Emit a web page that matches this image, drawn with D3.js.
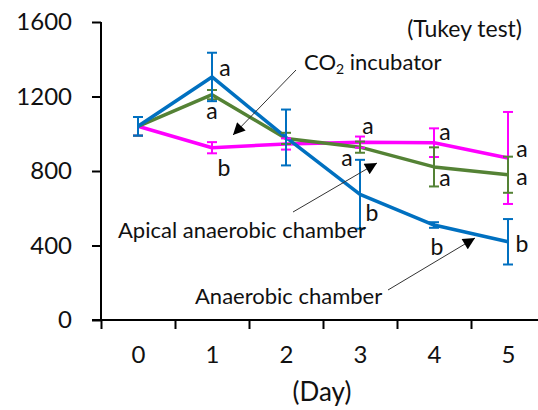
<!DOCTYPE html>
<html><head><meta charset="utf-8">
<script src="https://cdn.jsdelivr.net/npm/d3@7"></script>
<style>
body{margin:0;background:#fff;}
svg{display:block;font-family:Lato, "Noto Sans", sans-serif;}
</style></head>
<body>
<svg id="chart" width="538" height="410"></svg>
<script>
const days = [0, 1, 2, 3, 4, 5];
const yTicks = [0, 400, 800, 1200, 1600];
const seriesNames = ["CO2 incubator", "Apical anaerobic chamber", "Anaerobic chamber"];
const co2Values = [1040, 925, 945, 955, 952, 870];
const co2Errors = [50, 30, 30, 30, 77, 247];
const apicalValues = [1040, 1210, 975, 928, 822, 780];
const apicalErrors = [50, 25, 30, 30, 105, 97];
const anaerobicValues = [1040, 1305, 980, 675, 510, 420];
const anaerobicErrors = [50, 130, 150, 185, 15, 122];
const co2Letters = ["", "b", "", "a", "a", "a"];
const apicalLetters = ["", "a", "", "a", "a", "a"];
const anaerobicLetters = ["", "a", "", "b", "b", "b"];

const svg = d3.select("#chart");
const x = d3.scaleLinear().domain([-0.5, 5.5]).range([101, 545]);
const y = d3.scaleLinear().domain([0, 1600]).range([320, 22]);

// axes
const yAxis = svg.append("g").attr("transform", "translate(101,0)")
  .call(d3.axisLeft(y).tickValues(yTicks).tickSize(9).tickPadding(20).tickFormat(d3.format("d")));
yAxis.select(".domain").remove();
yAxis.selectAll(".tick line").attr("stroke", "#000").attr("stroke-width", 2);
yAxis.selectAll("text").attr("font-size", 24).attr("fill", "#111").attr("font-family", "Lato");
svg.append("line").attr("x1", 101).attr("x2", 101).attr("y1", y(1600)).attr("y2", y(0)).attr("stroke", "#000").attr("stroke-width", 2);

const xTickAxis = svg.append("g").attr("transform", "translate(0,320)")
  .call(d3.axisBottom(x).tickValues(d3.range(-0.5, 6, 1)).tickSize(9).tickFormat(""));
xTickAxis.select(".domain").remove();
xTickAxis.selectAll(".tick line").attr("stroke", "#000").attr("stroke-width", 2);
svg.append("line").attr("x1", 92).attr("x2", 545).attr("y1", 320).attr("y2", 320).attr("stroke", "#000").attr("stroke-width", 2);

const xLabelAxis = svg.append("g").attr("transform", "translate(0,320)")
  .call(d3.axisBottom(x).tickValues(days).tickSize(0).tickPadding(26).tickFormat(d3.format("d")));
xLabelAxis.select(".domain").remove();
xLabelAxis.selectAll("text").attr("font-size", 24).attr("fill", "#111").attr("font-family", "Lato");

svg.append("text").attr("x", 322).attr("y", 401).attr("text-anchor", "middle")
  .attr("font-size", 26).attr("fill", "#111").text("(Day)");

// series
const series = [
  {name: seriesNames[0], values: co2Values, errors: co2Errors, letters: co2Letters, color: "#FF00FF",
   off: [null, [12, 20], null, [8, -14], [11, -9], [14, -7]]},
  {name: seriesNames[1], values: apicalValues, errors: apicalErrors, letters: apicalLetters, color: "#548235",
   off: [null, [0, 18], null, [-13, 13], [11, 13], [14, 4]]},
  {name: seriesNames[2], values: anaerobicValues, errors: anaerobicErrors, letters: anaerobicLetters, color: "#0070C0",
   off: [null, [13, -7], null, [12, 18], [3, 22], [14, 2]]}
];

const line = d3.line().x((d, i) => x(days[i])).y(d => y(d)).curve(d3.curveLinear);

series.forEach(s => {
  svg.append("path").attr("d", line(s.values)).attr("fill", "none")
    .attr("stroke", s.color).attr("stroke-width", 3.5).attr("stroke-linejoin", "round");
});
series.forEach(s => {
  const g = svg.append("g").attr("stroke", s.color).attr("stroke-width", 2);
  s.values.forEach((v, i) => {
    const cx = x(days[i]);
    const e = s.errors[i];
    g.append("line").attr("x1", cx).attr("x2", cx).attr("y1", y(v + e)).attr("y2", y(v - e));
    g.append("line").attr("x1", cx - 5).attr("x2", cx + 5).attr("y1", y(v + e)).attr("y2", y(v + e));
    g.append("line").attr("x1", cx - 5).attr("x2", cx + 5).attr("y1", y(v - e)).attr("y2", y(v - e));
  });
});
// significance letters
series.forEach(s => {
  s.letters.forEach((t, i) => {
    if (!t) return;
    const o = s.off[i];
    svg.append("text").attr("x", x(days[i]) + o[0]).attr("y", y(s.values[i]) + o[1])
      .attr("dy", t === "b" ? "0.36em" : "0.26em")
      .attr("text-anchor", "middle").attr("font-size", 23).attr("fill", "#111").text(t);
  });
});

// arrow marker
svg.append("defs").append("marker").attr("id", "arr")
  .attr("viewBox", "0 0 10 10").attr("refX", 10).attr("refY", 5)
  .attr("markerWidth", 14).attr("markerHeight", 12).attr("markerUnits", "userSpaceOnUse")
  .attr("orient", "auto")
  .append("path").attr("d", "M0,0 L10,5 L0,10 Z").attr("fill", "#000");

const leaders = [[296, 70, 233, 135], [293, 212, 377, 163], [388, 290, 475, 238]];
leaders.forEach(l => {
  svg.append("line").attr("x1", l[0]).attr("y1", l[1]).attr("x2", l[2]).attr("y2", l[3])
    .attr("stroke", "#333").attr("stroke-width", 1).attr("marker-end", "url(#arr)");
});

// annotation texts
svg.append("text").attr("x", 522).attr("y", 37).attr("text-anchor", "end")
  .attr("font-size", 23).attr("fill", "#111").text("(Tukey test)");
const co2t = svg.append("text").attr("x", 304).attr("y", 70).attr("font-size", 22).attr("fill", "#111");
co2t.append("tspan").text("CO");
co2t.append("tspan").attr("font-size", 14).attr("dy", 4).text("2");
co2t.append("tspan").attr("dy", -4).text(" incubator");
svg.append("text").attr("x", 118).attr("y", 238).attr("font-size", 22).attr("fill", "#111").text(seriesNames[1]);
svg.append("text").attr("x", 195).attr("y", 304).attr("font-size", 22).attr("fill", "#111").text(seriesNames[2]);
</script>
</body></html>
